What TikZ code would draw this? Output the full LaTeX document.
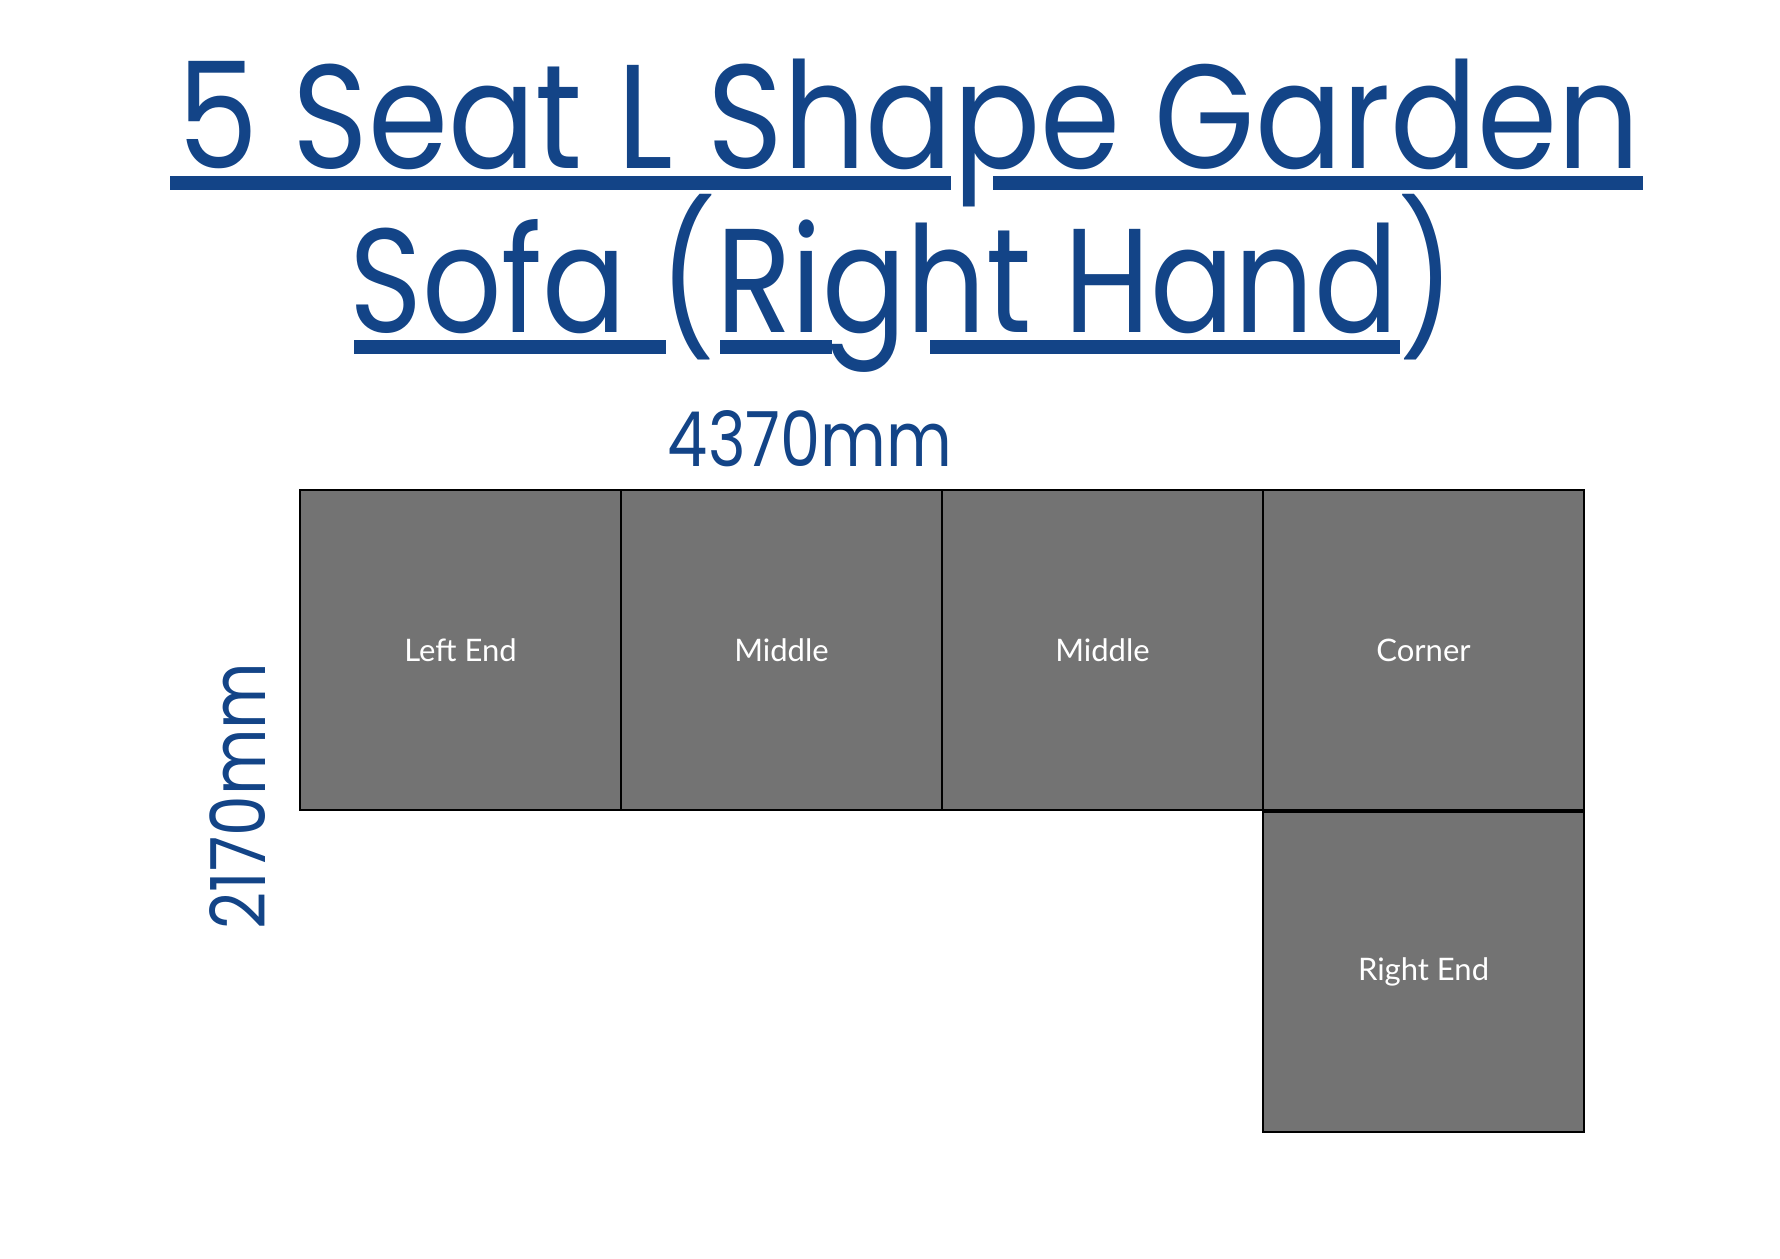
\documentclass[tikz,border=0pt]{standalone}
\usepackage{fontspec}
\setmainfont{Poppins}
\newfontfamily\labelfont{Lato}
\usetikzlibrary{positioning}
\definecolor{titleblue}{RGB}{19,68,135}
\definecolor{seatgrey}{RGB}{115,115,115}

\begin{document}
\begin{tikzpicture}[
      x=0.5pt, y=-0.5pt,
      seat/.style={
         rectangle,
         draw=black,
         line width=0.75pt,
         fill=seatgrey,
         minimum width=160.5pt,
         minimum height=160pt,
         inner sep=0pt, outer sep=0pt,
         text=white,
         font=\labelfont\fontsize{15.5}{18}\selectfont
      },
      heading/.style={
         text=titleblue,
         inner sep=0pt,
         font=\fontsize{74}{80}\selectfont
      },
      measure/.style={
         text=titleblue,
         inner sep=0pt,
         font=\fontsize{38}{40}\selectfont
      },
      underline/.style={draw=titleblue, line width=7pt}
    ]
    \useasboundingbox (0,0) rectangle (1780,1258);

    % title
    \node (title1) [heading, anchor=base] at (909,168) {\scalebox{0.872}[1]{5 Seat L Shape Garden}};
    \node (title2) [heading, anchor=base] at (902,332) {\scalebox{0.84}[1]{Sofa (Right Hand)}};
    \draw[underline] (170,183) -- (951,183);
    \draw[underline] (993,183) -- (1643,183);
    \draw[underline] (354,347) -- (666,347);
    \draw[underline] (720,347) -- (832,347);
    \draw[underline] (930,347) -- (1400,347);

    % seats
    \node (leftend) [seat, anchor=north west] at (300,490) {Left End};
    \node (middleA) [seat, right=0pt of leftend] {Middle};
    \node (middleB) [seat, right=0pt of middleA] {Middle};
    \node (corner) [seat, right=0pt of middleB] {Corner};
    \node (rightend) [seat, below=1pt of corner] {Right End};

    % sizes
    \node (width) [measure, anchor=base] at (810,466) {\scalebox{0.84}[1]{4370mm}};
    \node (depth) [measure, anchor=base, rotate=90] at (265,796) {\scalebox{0.85}[1]{2170mm}};
\end{tikzpicture}
\end{document}
